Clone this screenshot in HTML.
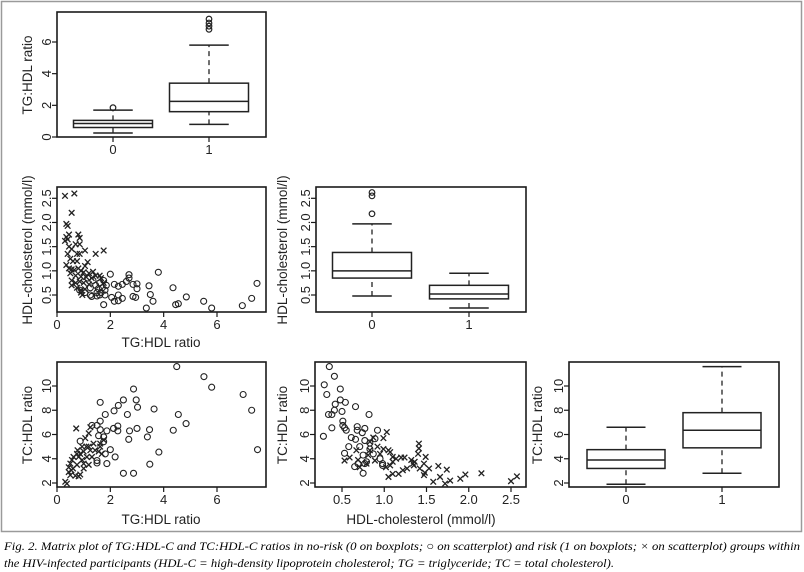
<!DOCTYPE html>
<html><head><meta charset="utf-8"><style>
html,body{margin:0;padding:0;background:#fff;}
svg{display:block;font-family:"Liberation Sans",sans-serif;}
</style></head><body>
<svg id="chart" width="804" height="572" viewBox="0 0 804 572">
<rect x="1.5" y="1.5" width="800" height="530" fill="none" stroke="#9a9a9a" stroke-width="1.5"/>
<text x="4" y="550" font-family="Liberation Serif, serif" font-style="italic" font-size="12" textLength="796" lengthAdjust="spacingAndGlyphs">Fig. 2. Matrix plot of TG:HDL-C and TC:HDL-C ratios in no-risk (0 on boxplots; ○ on scatterplot) and risk (1 on boxplots; × on scatterplot) groups within</text>
<text x="4" y="567" font-family="Liberation Serif, serif" font-style="italic" font-size="12" textLength="610" lengthAdjust="spacingAndGlyphs">the HIV-infected participants (HDL-C = high-density lipoprotein cholesterol; TG = triglyceride; TC = total cholesterol).</text>
</svg>
<script>
// ---- Data ----
const groupLabels = ["0","1"];
// boxplot stats: [lowWhisker, q1, median, q3, highWhisker]
const tgBoxStats = [[0.25,0.6,0.85,1.05,1.7],[0.8,1.6,2.25,3.4,5.8]];
const tgOutliers = [[1.85],[6.8,7.0,7.2,7.45]];
const hdlBoxStats = [[0.48,0.85,1.0,1.38,1.97],[0.23,0.42,0.52,0.70,0.95]];
const hdlOutliers = [[2.18,2.55,2.62],[]];
const tcBoxStats = [[1.9,3.2,3.9,4.75,6.6],[2.8,4.9,6.35,7.8,11.6]];
const tcOutliers = [[],[]];
const tgTicks = [0,2,4,6];
const hdlTicks = [0.5,1.0,1.5,2.0,2.5];
const tcTicks = [2,4,6,8,10];

// scatter: HDL vs TG
const s1NoRiskTG = [2.0,2.15,2.3,2.45,2.6,2.7,2.7,2.85,3.0,3.0,2.85,2.95,2.3,2.15,2.3,2.45,2.05,3.8,3.45,3.5,3.6,3.35,4.35,4.45,4.55,4.85,5.5,5.8,6.95,7.3,7.5,1.75,1.8,1.8,1.85,1.7,1.6,1.55,1.5,1.5,1.6,1.25,1.3,1.25,1.45,0.85,1.05,1.15,1.35,1.75,1.65];
const s1NoRiskHDL = [0.93,0.72,0.68,0.72,0.78,0.92,0.85,0.72,0.73,0.63,0.47,0.45,0.5,0.37,0.38,0.43,0.45,0.97,0.69,0.51,0.37,0.23,0.65,0.3,0.32,0.46,0.37,0.23,0.28,0.43,0.74,0.3,0.5,0.6,0.7,0.65,0.75,0.63,0.55,0.48,0.5,0.5,0.47,0.65,0.7,0.6,0.55,0.85,0.8,0.8,0.55];
const s1RiskTG = [0.3,0.65,0.55,0.35,0.4,0.3,0.35,0.45,0.4,0.8,0.85,0.45,0.55,0.7,0.85,1.45,1.75,0.75,0.85,1.05,0.4,0.5,0.6,0.75,1.15,1.05,0.35,0.45,0.55,0.65,0.8,0.9,1.0,1.2,1.35,1.45,0.5,0.7,0.9,1.1,1.3,1.6,0.55,0.7,0.85,1.0,1.2,0.55,0.75,0.9,1.05,0.95,0.9,1.75,1.65];
const s1RiskHDL = [2.55,2.6,2.2,1.97,1.93,1.62,1.7,1.75,1.65,1.75,1.68,1.5,1.45,1.55,1.55,1.35,1.42,1.35,1.35,1.42,1.35,1.25,1.2,1.2,1.18,1.1,1.12,1.05,1.03,1.02,1.05,1.0,0.97,0.95,0.98,0.9,0.95,0.9,0.88,0.87,0.85,0.9,0.8,0.75,0.78,0.75,0.72,0.7,0.65,0.6,0.62,0.5,0.55,0.75,0.85];

// scatter: TC vs TG
const s2NoRiskTG = [4.49,5.51,5.8,6.98,7.3,7.52,2.87,2.49,2.3,2.14,1.62,2.97,3.02,2.64,1.81,1.62,3.64,4.55,4.84,2.28,2.12,2.28,2.72,3.0,3.47,4.36,3.39,2.69,1.87,1.5,1.62,1.56,1.75,2.0,2.18,1.87,1.5,1.5,1.81,3.82,3.48,2.49,2.87,1.31,0.87,1.75];
const s2NoRiskTC = [11.6,10.77,9.9,9.3,8.0,4.75,9.75,8.85,8.4,7.95,8.65,8.85,8.25,7.65,7.65,7.1,8.1,7.65,6.9,6.7,6.5,6.3,6.3,6.5,6.4,6.35,5.8,5.6,6.3,6.75,6.4,5.9,5.8,4.75,4.15,3.6,3.85,3.65,4.4,4.55,3.55,2.8,2.8,6.75,5.45,5.4];
const s2RiskTG = [0.31,0.37,0.44,0.5,0.6,0.69,0.81,0.87,0.62,0.75,0.77,0.75,0.94,1.0,1.1,1.06,0.72,1.19,1.25,1.12,1.19,1.25,1.31,0.5,0.54,0.44,0.87,1.0,1.37,1.43,1.62,1.62,1.75,1.56,1.68,1.0,1.19,0.94,0.81,0.56];
const s2RiskTC = [2.1,1.95,2.9,3.6,3.2,2.6,2.55,2.7,4.15,4.4,4.7,3.5,3.9,4.6,5.0,5.7,6.5,6.1,6.6,4.15,3.5,4.7,4.15,2.65,3.05,3.3,4.4,3.6,5.25,4.7,5.0,5.25,5.55,4.6,4.4,3.2,5.0,5.0,4.15,3.9];

// scatter: TC vs HDL
const s3NoRiskHDL = [0.35,0.41,0.29,0.32,0.48,0.48,0.54,0.42,0.41,0.5,0.34,0.38,0.66,0.82,0.51,0.51,0.53,0.55,0.38,0.28,0.68,0.77,0.92,0.68,0.74,0.61,0.66,0.77,0.58,0.71,0.83,0.87,0.75,0.53,0.69,0.77,0.65,0.75,0.95,0.98,0.98,0.79,0.83,0.89];
const s3NoRiskTC = [11.6,10.8,10.1,9.3,9.75,8.85,8.65,8.5,8.0,7.9,7.65,7.65,8.3,7.65,7.1,6.75,6.55,6.35,6.55,5.85,6.65,6.5,6.35,6.35,6.15,5.75,5.6,5.5,5.0,5.0,4.8,4.4,4.3,4.45,3.6,3.6,3.35,2.8,4.0,3.45,3.6,3.75,5.3,5.65];
const s3RiskHDL = [1.03,0.99,0.87,0.83,0.92,0.99,1.05,1.07,1.1,1.14,1.2,1.24,1.1,1.02,1.07,1.1,1.05,1.17,1.22,1.27,1.32,1.34,1.35,1.36,1.4,1.41,1.41,1.49,1.47,1.47,1.48,1.42,1.53,1.64,1.58,1.66,1.74,1.72,1.78,1.9,1.96,2.15,2.5,2.57,0.81,0.79,0.69,0.71,0.59,0.53,0.67,0.83,0.89,0.95];
const s3RiskTC = [6.2,5.7,5.75,5.4,5.0,4.8,4.7,4.55,4.15,4.0,4.1,4.1,3.75,3.3,3.45,2.75,2.5,2.75,3.05,3.2,3.9,3.6,3.45,3.75,4.4,4.85,5.25,4.15,3.6,2.65,2.85,3.2,3.2,3.4,2.1,2.5,3.1,1.95,2.2,2.35,2.7,2.8,2.15,2.55,4.3,3.6,3.9,3.3,4.1,3.85,4.7,4.7,3.85,4.4];

const NS = "http://www.w3.org/2000/svg";
const svg = document.getElementById("chart");
function mk(tag, attrs, parent){const e=document.createElementNS(NS,tag);for(const k in attrs)e.setAttribute(k,attrs[k]);(parent||svg).appendChild(e);return e;}
function lin(d0,d1,r0,r1){return v=>r0+(v-d0)*(r1-r0)/(d1-d0);}

function frame(name,x0,y0,x1,y1){
  const g=mk("g",{});
  
  
  const r=mk("rect",{x:x0,y:y0,width:x1-x0,height:y1-y0,fill:"none",stroke:"#1a1a1a","stroke-width":1.6},g);
  
  
  return g;
}
function yAxis(g,ticks,ys,x0,fmt){
  ticks.forEach(t=>{
    const y=ys(t);
    const l=mk("line",{x1:x0-5,x2:x0,y1:y,y2:y,stroke:"#1a1a1a","stroke-width":1.2},g);
    
    
    const tx=mk("text",{x:x0-6,y:y,"font-size":13,"text-anchor":"middle",fill:"#222",transform:`rotate(-90 ${x0-6} ${y})`},g);
    tx.textContent=fmt?fmt(t):String(t);
    
    
  });
}
function xAxis(g,ticks,labels,xs,y1){
  ticks.forEach((t,i)=>{
    const x=xs(t);
    const l=mk("line",{x1:x,x2:x,y1:y1,y2:y1+5,stroke:"#1a1a1a","stroke-width":1.2},g);
    
    
    const tx=mk("text",{x:x,y:y1+17,"font-size":13,"text-anchor":"middle",fill:"#222"},g);
    tx.textContent=labels[i];
    
    
  });
}
function title(text,x,y,rot,name){
  const t=mk("text",{x:x,y:y,"font-size":13.5,"text-anchor":"middle",fill:"#222"});
  if(rot)t.setAttribute("transform",`rotate(-90 ${x} ${y})`);
  t.textContent=text;
  
  
}
function boxplot(name,x0,y0,x1,y1,gx,bw,ys,stats,outs,ticks,fmt){
  const g=frame(name,x0,y0,x1,y1);
  yAxis(g,ticks,ys,x0,fmt);
  xAxis(g,[0,1],groupLabels,i=>gx[i],y1);
  stats.forEach((s,i)=>{
    const cx=gx[i], hw=bw/2, cw=bw*0.25;
    const bg=mk("g",{},g);
    
    
    mk("line",{x1:cx,x2:cx,y1:ys(s[0]),y2:ys(s[1]),stroke:"#222","stroke-width":1.3,"stroke-dasharray":"5,4"},bg);
    mk("line",{x1:cx,x2:cx,y1:ys(s[3]),y2:ys(s[4]),stroke:"#222","stroke-width":1.3,"stroke-dasharray":"5,4"},bg);
    mk("line",{x1:cx-cw,x2:cx+cw,y1:ys(s[0]),y2:ys(s[0]),stroke:"#222","stroke-width":1.5},bg);
    mk("line",{x1:cx-cw,x2:cx+cw,y1:ys(s[4]),y2:ys(s[4]),stroke:"#222","stroke-width":1.5},bg);
    mk("rect",{x:cx-hw,y:ys(s[3]),width:bw,height:ys(s[1])-ys(s[3]),fill:"#fff",stroke:"#222","stroke-width":1.5},bg);
    mk("line",{x1:cx-hw,x2:cx+hw,y1:ys(s[2]),y2:ys(s[2]),stroke:"#222","stroke-width":1.5},bg);
    outs[i].forEach(v=>{
      const c=mk("circle",{cx:cx,cy:ys(v),r:2.8,fill:"none",stroke:"#222","stroke-width":1.2},bg);
      
      
    });
  });
}
function scatter(name,x0,y0,x1,y1,xs,ys,xt,xfmt,yt,yfmt,cx,cy,kx,ky){
  const g=frame(name,x0,y0,x1,y1);
  yAxis(g,yt,ys,x0,yfmt);
  xAxis(g,xt,xt.map(xfmt),xs,y1);
  cx.forEach((v,i)=>{
    const c=mk("circle",{cx:xs(v),cy:ys(cy[i]),r:3,fill:"none",stroke:"#222","stroke-width":1.1},g);
    
    
  });
  kx.forEach((v,i)=>{
    const px=xs(v),py=ys(ky[i]),d=2.8;
    const p=mk("path",{d:`M${px-d},${py-d}L${px+d},${py+d}M${px-d},${py+d}L${px+d},${py-d}`,stroke:"#222","stroke-width":1.3,fill:"none"},g);
    
    
  });
}
const f1=v=>v.toFixed(1);
const fi=v=>String(v);
const tgX=lin(0,6,57,217);
const hdlY=lin(0.5,2.5,295,198.3);
const tcY=lin(2,10,483,386);
const hdlX=lin(0.5,2.5,342,511);

boxplot("tg-hdl-boxplot",57,12,266,137,[113,209],79,lin(0,6,137,42),tgBoxStats,tgOutliers,tgTicks,fi);
title("TG:HDL ratio",32,75,true,"y-axis-title-tg-box");

scatter("hdl-vs-tg-scatter",57,187,266,312,tgX,hdlY,tgTicks,fi,hdlTicks,f1,s1NoRiskTG,s1NoRiskHDL,s1RiskTG,s1RiskHDL);
title("HDL-cholesterol (mmol/l)",32,250,true,"y-axis-title-hdl-scatter");
title("TG:HDL ratio",161,347,false,"x-axis-title-hdl-scatter");

boxplot("hdl-boxplot",316,187,526,312,[372,469],79,hdlY,hdlBoxStats,hdlOutliers,hdlTicks,f1);
title("HDL-cholesterol (mmol/l)",287,250,true,"y-axis-title-hdl-box");

scatter("tc-vs-tg-scatter",57,362,266,487,tgX,tcY,tgTicks,fi,tcTicks,fi,s2NoRiskTG,s2NoRiskTC,s2RiskTG,s2RiskTC);
title("TC:HDL ratio",32,425,true,"y-axis-title-tc-tg-scatter");
title("TG:HDL ratio",161,524,false,"x-axis-title-tc-tg-scatter");

scatter("tc-vs-hdl-scatter",315,362,526,487,hdlX,tcY,hdlTicks,f1,tcTicks,fi,s3NoRiskHDL,s3NoRiskTC,s3RiskHDL,s3RiskTC);
title("TC:HDL ratio",287,425,true,"y-axis-title-tc-hdl-scatter");
title("HDL-cholesterol (mmol/l)",421,524,false,"x-axis-title-tc-hdl-scatter");

boxplot("tc-hdl-boxplot",569,362,779,487,[626,722],78,tcY,tcBoxStats,tcOutliers,tcTicks,fi);
title("TC:HDL ratio",542,425,true,"y-axis-title-tc-box");
</script>
</body></html>
